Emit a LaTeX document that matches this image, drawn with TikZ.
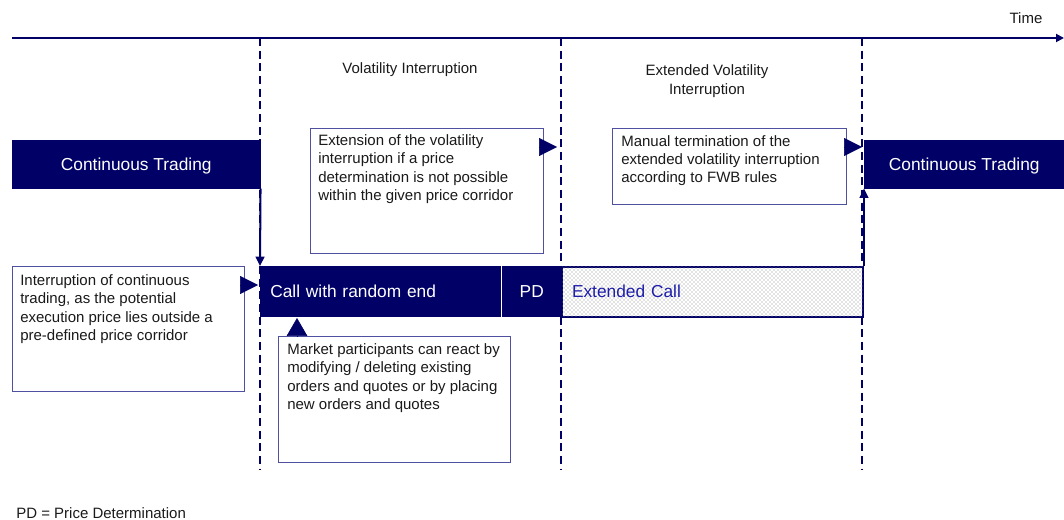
\documentclass[tikz,border=0pt]{standalone}
\usepackage{fontspec}
\setmainfont{Liberation Sans}
\usetikzlibrary{arrows.meta,patterns,positioning}
\definecolor{navy}{RGB}{0,0,102}
\definecolor{boxline}{RGB}{80,80,160}
\definecolor{ink}{RGB}{26,26,26}
\definecolor{callblue}{RGB}{30,30,170}

\begin{document}
\begin{tikzpicture}[x=0.75pt,y=-0.75pt,
  phase/.style={draw=navy,fill=navy,text=white,font=\fontsize{13}{15}\selectfont,
    inner sep=0pt,anchor=north west,minimum height=36pt,text height=10pt,text depth=1pt},
  note/.style={draw=boxline,fill=white,line width=0.8pt,inner sep=0pt,anchor=north west},
  notetext/.style={anchor=north west,align=left,text=ink,inner sep=0pt,
    font=\fontsize{11.25}{13.75}\selectfont},
  label/.style={text=ink,inner sep=0pt,font=\fontsize{11.25}{13.75}\selectfont},
  pointer/.style={navy,-{Triangle[length=13.5pt,width=13.5pt]}},
  border/.style={navy,line width=1.3pt,dash pattern=on 6pt off 3.5pt},
  flow/.style={navy,line width=1.5pt,-{Triangle[length=7pt,width=6.5pt]}}]
\useasboundingbox (0,0) rectangle (1064,520);

% time axis and phase borders
\draw[navy,line width=1.4pt,-{Triangle[length=6pt,width=6pt]}] (12,38) -- (1064,38);
\node[label] (time) at (1026,18) {Time};
\draw[border] (260,38) -- (260,470);
\draw[border] (561,38) -- (561,470);
\draw[border] (862,38) -- (862,470);

\node[label] (vi) at (410,70) {Volatility Interruption};
\node[label,align=center] (evi) at (707,81) {Extended Volatility\\Interruption};

% trading phases
\node[phase,minimum width=186pt] (ctleft) at (12,140) {Continuous Trading};
\node[phase,minimum width=150pt] (ctright) at (864,140) {Continuous Trading};
\node[phase,minimum height=37.5pt,text width=165pt,inner xsep=7.5pt,align=left] (call) at (260,266) {Call with random end};
\node[phase,minimum height=37.5pt,minimum width=44.25pt] (pd) at (502,266) {PD};
\node[phase,minimum height=37.5pt,minimum width=225.75pt,text width=210.75pt,inner xsep=7.5pt,
  align=left,line width=1.5pt,fill=white,text=callblue,
  postaction={pattern=crosshatch dots,pattern color=gray!95}] (extcall) at (561,266) {Extended Call};

\draw[flow] (ctleft.south east) -- (call.north west);
\draw[flow] (extcall.north east) -- (extcall.north east |- ctright.south);

% explanations
\node[note,minimum width=174pt,minimum height=93.75pt] (interrupt) at (12,266) {};
\node[notetext] (interrupttext) at (20,274.5) {Interruption of continuous\\trading, as the potential\\execution price lies outside a\\pre-defined price corridor};
\node[note,minimum width=174.75pt,minimum height=93.75pt] (extend) at (310,128) {};
\node[notetext] (extendtext) at (318,134.5) {Extension of the volatility\\interruption if a price\\determination is not possible\\within the given price corridor};
\node[note,minimum width=175.5pt,minimum height=57pt] (manual) at (612,128) {};
\node[notetext] (manualtext) at (621,135) {Manual termination of the\\extended volatility interruption\\according to FWB rules};
\node[note,minimum width=174pt,minimum height=94.5pt] (react) at (278,336) {};
\node[notetext] (reacttext) at (287,343.5) {Market participants can react by\\modifying / deleting existing\\orders and quotes or by placing\\new orders and quotes};

\coordinate (tipa) at (258,285);
\coordinate (tipb) at (557,147);
\coordinate (tipc) at (862,147);
\coordinate (tipd) at (297,318);
\draw[pointer] (tipa -| interrupt.east) -- (tipa);
\draw[pointer] (tipb -| extend.east) -- (tipb);
\draw[pointer] (tipc -| manual.east) -- (tipc);
\draw[pointer,-{Triangle[length=13.5pt,width=15.5pt]}] (tipd |- react.north) -- (tipd);

\node[label,anchor=west] (legend) at (16,513) {PD = Price Determination};
\end{tikzpicture}
\end{document}
